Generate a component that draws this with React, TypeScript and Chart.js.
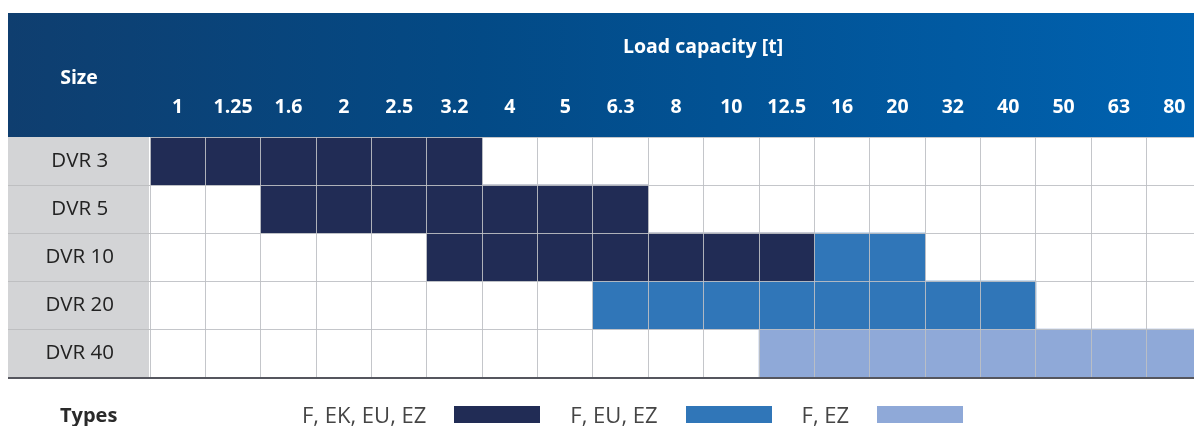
import React, { useEffect, useRef } from "react";
import { Chart, registerables } from "chart.js";

Chart.register(...registerables);

// ---- data ----
const capacities = ["1", "1.25", "1.6", "2", "2.5", "3.2", "4", "5", "6.3", "8", "10", "12.5", "16", "20", "32", "40", "50", "63", "80"];
const sizes = ["DVR 3", "DVR 5", "DVR 10", "DVR 20", "DVR 40"];
const typeLabels = ["F, EK, EU, EZ", "F, EU, EZ", "F, EZ"];
const typeColors = ["#212C55", "#3076B8", "#8FA9D8"];
// capacity range [from, to] per size (same order as sizes), null = not offered
const rangeFEKEUEZ = [["1", "3.2"], ["1.6", "6.3"], ["3.2", "12.5"], null, null];
const rangeFEUEZ = [null, null, ["16", "20"], ["6.3", "40"], null];
const rangeFEZ = [null, null, null, null, ["12.5", "80"]];
const typeRanges = [rangeFEKEUEZ, rangeFEUEZ, rangeFEZ];
const headerTitle = "Load capacity [t]";
const sizeTitle = "Size";
const legendTitle = "Types";

const FONT = '"Open Sans", "DejaVu Sans", sans-serif';
const GRID = "rgba(190,192,196,0.9)";
const CANVAS_W = 1202;
const CANVAS_H = 426;

const tablePlugin = {
  id: "tableDecor",
  beforeDraw(chart: any) {
    const { ctx, chartArea } = chart;
    const left = 8;
    const right = chart.width;
    const top = 13;
    ctx.save();
    const g = ctx.createLinearGradient(left, 0, 1194, 0);
    g.addColorStop(0, "#0F3E6F");
    g.addColorStop(0.4, "#034A86");
    g.addColorStop(1, "#0062B0");
    ctx.fillStyle = g;
    ctx.fillRect(left, top, right - left, chartArea.top - top);
    ctx.fillStyle = "#D3D4D6";
    ctx.fillRect(left, chartArea.top, chartArea.left - 1 - left, chartArea.bottom - chartArea.top);
    ctx.fillStyle = "#ffffff";
    ctx.font = `bold 19.5px ${FONT}`;
    ctx.textAlign = "center";
    ctx.textBaseline = "middle";
    ctx.fillText(headerTitle, 703, 47);
    ctx.fillText(sizeTitle, (left + chartArea.left) / 2, 78);
    ctx.restore();
  },
  afterDraw(chart: any) {
    const { ctx, chartArea } = chart;
    const left = 8;
    const n = sizes.length;
    const h = (chartArea.bottom - chartArea.top) / n;
    ctx.save();
    ctx.strokeStyle = "#BEBFC1";
    ctx.lineWidth = 1;
    for (let i = 1; i < n; i++) {
      const y = Math.round(chartArea.top + i * h) + 0.5;
      ctx.beginPath();
      ctx.moveTo(left, y);
      ctx.lineTo(chartArea.left, y);
      ctx.stroke();
    }
    ctx.fillStyle = "#55565E";
    ctx.fillRect(left, chartArea.bottom, chart.width - left, 2);
    ctx.restore();
  },
};

export default function App() {
  const ref = useRef<HTMLCanvasElement>(null);
  useEffect(() => {
    const idx = (v: string) => capacities.indexOf(v);
    const toBars = (ranges: any[]) => ranges.map((r) => (r ? [idx(r[0]), idx(r[1]) + 1] : null));
    const chart = new Chart(ref.current as HTMLCanvasElement, {
      type: "bar",
      data: {
        labels: sizes,
        datasets: typeRanges.map((ranges, i) => ({
          label: typeLabels[i],
          data: toBars(ranges) as any,
          backgroundColor: typeColors[i],
          borderWidth: 0,
          barPercentage: 1,
          categoryPercentage: 1,
          grouped: false,
        })),
      },
      options: {
        indexAxis: "y",
        responsive: false,
        animation: false,
        devicePixelRatio: 1,
        layout: { padding: { left: 8, top: 13, right: 0, bottom: 49 } },
        plugins: { legend: { display: false }, tooltip: { enabled: false } },
        scales: {
          x: {
            type: "linear",
            position: "bottom",
            min: 0,
            max: capacities.length,
            ticks: { display: false, stepSize: 1 },
            grid: { color: GRID, z: 1, drawTicks: false },
            border: { display: false },
            afterFit: (s: any) => {
              s.height = 0;
            },
          },
          xTop: {
            type: "category",
            labels: capacities,
            position: "top",
            offset: true,
            grid: { display: false },
            border: { display: false },
            ticks: {
              color: "#ffffff",
              font: { family: FONT, size: 19.5, weight: "bold" },
              padding: 10,
              maxRotation: 0,
              autoSkip: false,
            },
            afterFit: (s: any) => {
              s.height = 124;
            },
          },
          y: {
            type: "category",
            position: "left",
            grid: { color: GRID, z: 1, drawTicks: false, offset: true },
            border: { display: false },
            ticks: {
              color: "#222222",
              font: { family: FONT, size: 20.5 },
              crossAlign: "center",
              padding: 36,
            },
            afterFit: (s: any) => {
              s.width = 142;
            },
          },
        } as any,
      },
      plugins: [tablePlugin],
    });
    return () => chart.destroy();
  }, []);

  return (
    <div style={{ position: "fixed", left: 0, top: 0, width: 1194, height: 426, background: "#fff", overflow: "hidden" }}>
      <canvas ref={ref} width={CANVAS_W} height={CANVAS_H} style={{ display: "block" }} />
      <div
        style={{
          position: "absolute",
          left: 0,
          top: 400,
          height: 28,
          width: 1194,
          fontFamily: FONT,
          display: "flex",
          alignItems: "center",
        }}
      >
        <span style={{ position: "absolute", left: 60, fontWeight: "bold", fontSize: 20, color: "#2a2a2a" }}>{legendTitle}</span>
        <div style={{ position: "absolute", left: 302, display: "flex", alignItems: "center" }}>
          {typeLabels.map((t, i) => (
            <div key={t} style={{ display: "flex", alignItems: "center", marginRight: 30 }}>
              <span style={{ fontSize: 22, color: "#454545", whiteSpace: "nowrap" }}>{t}</span>
              <span style={{ display: "inline-block", width: 86, height: 17, marginLeft: 28, background: typeColors[i] }} />
            </div>
          ))}
        </div>
      </div>
    </div>
  );
}
